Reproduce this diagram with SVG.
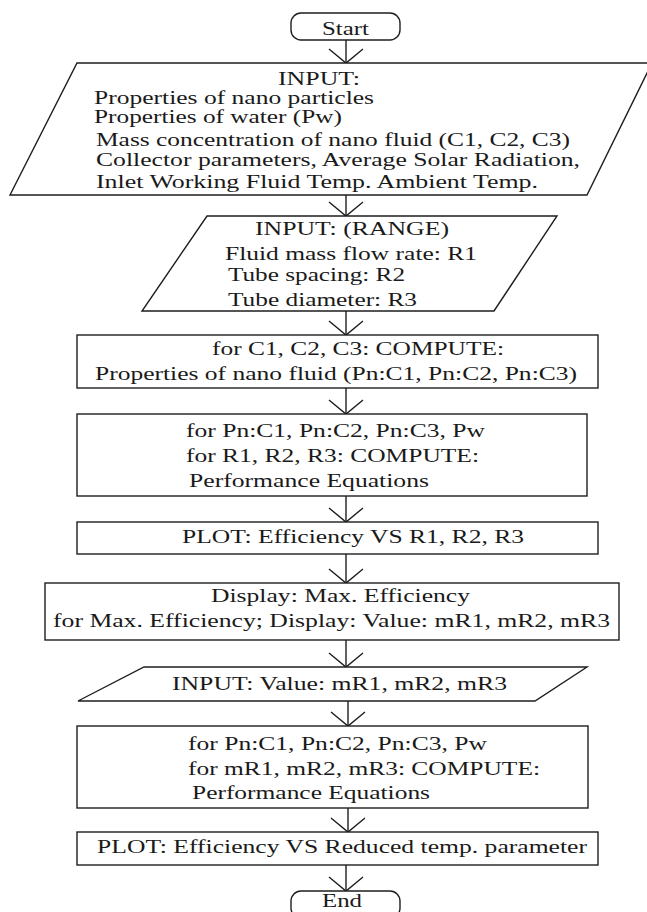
<svg xmlns="http://www.w3.org/2000/svg" width="647" height="912" viewBox="0 0 647 912">
<style>
.s{fill:#fff;stroke:#1e1e1e;stroke-width:1.4}
.t{font-family:'Liberation Serif','Times New Roman','DejaVu Serif',serif;font-size:19.5px;fill:#1a1a1a}
.c{stroke:#1e1e1e;stroke-width:1.4;fill:none}
</style>
<defs>
<marker id="v" viewBox="-20 -20 40 40" markerWidth="40" markerHeight="40" refX="0" refY="0" orient="auto" markerUnits="userSpaceOnUse">
<path d="M-14,-17 L0,0 L-14,17" fill="none" stroke="#1e1e1e" stroke-width="1.4"/>
</marker>
</defs>
<rect width="647" height="912" fill="#fff"/>
<g id="connectors">
<line class="c" x1="346" y1="40" x2="346" y2="63" marker-end="url(#v)"/>
<line class="c" x1="346" y1="195" x2="346" y2="216" marker-end="url(#v)"/>
<line class="c" x1="346" y1="311" x2="346" y2="335" marker-end="url(#v)"/>
<line class="c" x1="346" y1="388" x2="346" y2="414" marker-end="url(#v)"/>
<line class="c" x1="346" y1="496" x2="346" y2="522" marker-end="url(#v)"/>
<line class="c" x1="346" y1="554" x2="346" y2="583" marker-end="url(#v)"/>
<line class="c" x1="346" y1="640" x2="346" y2="667" marker-end="url(#v)"/>
<line class="c" x1="348" y1="701" x2="348" y2="726" marker-end="url(#v)"/>
<line class="c" x1="348" y1="808" x2="348" y2="832" marker-end="url(#v)"/>
<line class="c" x1="346" y1="865" x2="346" y2="891" marker-end="url(#v)"/>
</g>
<g id="start">
<rect class="s" x="291" y="13" width="109" height="27" rx="10" ry="10"/>
<text class="t" x="322" y="35" textLength="47" lengthAdjust="spacingAndGlyphs">Start</text>
</g>
<g id="input1">
<polygon class="s" points="77,63 652,63 587,195 10,195"/>
<text class="t" x="278" y="85" textLength="82" lengthAdjust="spacingAndGlyphs">INPUT:</text>
<text class="t" x="94" y="104" textLength="280" lengthAdjust="spacingAndGlyphs">Properties of nano particles</text>
<text class="t" x="94" y="123" textLength="248" lengthAdjust="spacingAndGlyphs">Properties of water (Pw)</text>
<text class="t" x="96" y="146" textLength="474" lengthAdjust="spacingAndGlyphs">Mass concentration of nano fluid (C1, C2, C3)</text>
<text class="t" x="96" y="166" textLength="484" lengthAdjust="spacingAndGlyphs">Collector parameters, Average Solar Radiation,</text>
<text class="t" x="96" y="188" textLength="442" lengthAdjust="spacingAndGlyphs">Inlet Working Fluid Temp. Ambient Temp.</text>
</g>
<g id="input2">
<polygon class="s" points="207,216 557,216 494,311 142,311"/>
<text class="t" x="255" y="235" textLength="194" lengthAdjust="spacingAndGlyphs">INPUT: (RANGE)</text>
<text class="t" x="225" y="260" textLength="252" lengthAdjust="spacingAndGlyphs">Fluid mass flow rate: R1</text>
<text class="t" x="228" y="281" textLength="177" lengthAdjust="spacingAndGlyphs">Tube spacing: R2</text>
<text class="t" x="228" y="306" textLength="189" lengthAdjust="spacingAndGlyphs">Tube diameter: R3</text>
</g>
<g id="compute1">
<rect class="s" x="77" y="335" width="521" height="53"/>
<text class="t" x="212" y="355" textLength="292" lengthAdjust="spacingAndGlyphs">for C1, C2, C3: COMPUTE:</text>
<text class="t" x="95" y="380" textLength="482" lengthAdjust="spacingAndGlyphs">Properties of nano fluid (Pn:C1, Pn:C2, Pn:C3)</text>
</g>
<g id="compute2">
<rect class="s" x="77" y="414" width="510" height="82"/>
<text class="t" x="186" y="437" textLength="299" lengthAdjust="spacingAndGlyphs">for Pn:C1, Pn:C2, Pn:C3, Pw</text>
<text class="t" x="186" y="462" textLength="293" lengthAdjust="spacingAndGlyphs">for R1, R2, R3: COMPUTE:</text>
<text class="t" x="189" y="487" textLength="240" lengthAdjust="spacingAndGlyphs">Performance Equations</text>
</g>
<g id="plot1">
<rect class="s" x="77" y="522" width="521" height="32"/>
<text class="t" x="182" y="543" textLength="342" lengthAdjust="spacingAndGlyphs">PLOT: Efficiency VS R1, R2, R3</text>
</g>
<g id="display">
<rect class="s" x="45" y="583" width="574" height="57"/>
<text class="t" x="211" y="602" textLength="259" lengthAdjust="spacingAndGlyphs">Display: Max. Efficiency</text>
<text class="t" x="53" y="627" textLength="557" lengthAdjust="spacingAndGlyphs">for Max. Efficiency; Display: Value: mR1, mR2, mR3</text>
</g>
<g id="input3">
<polygon class="s" points="144,667 587,667 535,701 78,701"/>
<text class="t" x="172" y="690" textLength="335" lengthAdjust="spacingAndGlyphs">INPUT: Value: mR1, mR2, mR3</text>
</g>
<g id="compute3">
<rect class="s" x="77" y="726" width="511" height="82"/>
<text class="t" x="188" y="750" textLength="299" lengthAdjust="spacingAndGlyphs">for Pn:C1, Pn:C2, Pn:C3, Pw</text>
<text class="t" x="188" y="775" textLength="352" lengthAdjust="spacingAndGlyphs">for mR1, mR2, mR3: COMPUTE:</text>
<text class="t" x="192" y="799" textLength="238" lengthAdjust="spacingAndGlyphs">Performance Equations</text>
</g>
<g id="plot2">
<rect class="s" x="77" y="832" width="521" height="33"/>
<text class="t" x="97" y="853" textLength="490" lengthAdjust="spacingAndGlyphs">PLOT: Efficiency VS Reduced temp. parameter</text>
</g>
<g id="end">
<rect class="s" x="291" y="891" width="109" height="27" rx="10" ry="10"/>
<text class="t" x="322" y="907" font-size="17" textLength="40" lengthAdjust="spacingAndGlyphs">End</text>
</g>
</svg>
